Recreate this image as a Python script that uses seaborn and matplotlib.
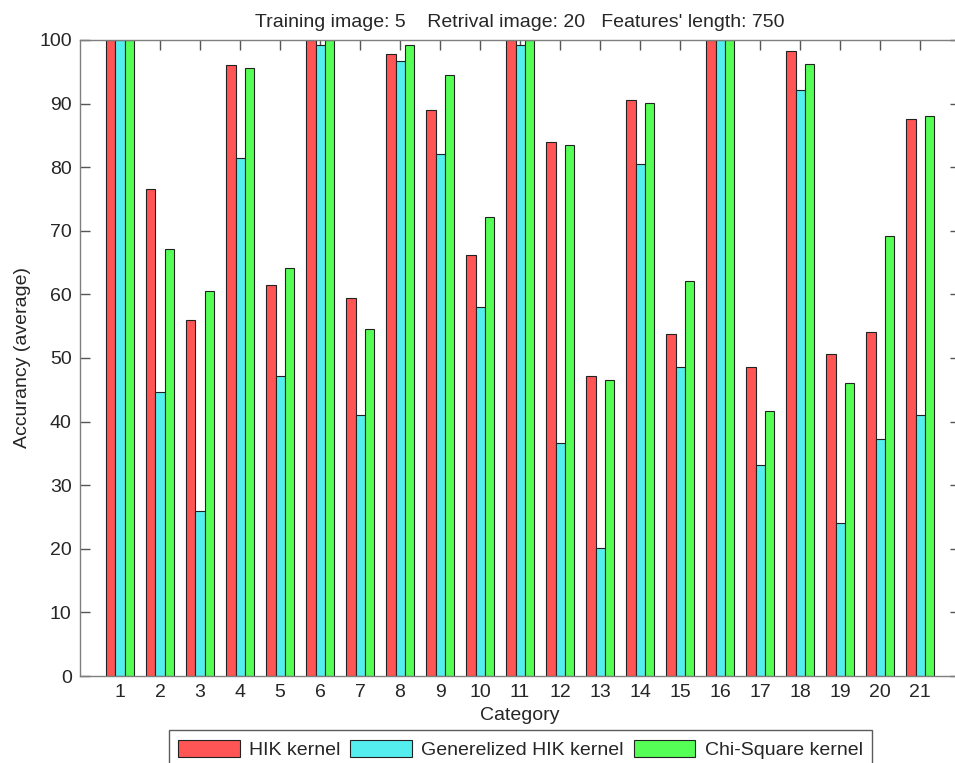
import matplotlib
matplotlib.use("Agg")
import matplotlib.pyplot as plt
import pandas as pd
import seaborn as sns

# Values
categories = [str(i) for i in range(1, 22)]
hik = [100, 76.5, 56, 96, 61.5, 100, 59.5, 97.8, 89, 66.2, 100,
       84, 47.2, 90.5, 53.7, 100, 48.6, 98.2, 50.6, 54.1, 87.6]
gen_hik = [100, 44.6, 26, 81.5, 47.2, 99.2, 41, 96.7, 82, 58, 99.2,
           36.6, 20.1, 80.5, 48.6, 100, 33.1, 92.2, 24.1, 37.2, 41]
chi_square = [100, 67.1, 60.6, 95.6, 64.1, 100, 54.6, 99.2, 94.5, 72.2, 100,
              83.5, 46.5, 90.1, 62.1, 100, 41.6, 96.2, 46.1, 69.2, 88]
series_names = ['HIK kernel', 'Generelized HIK kernel', 'Chi-Square kernel']

df = pd.DataFrame({
    'Category': categories * 3,
    'Accuracy': hik + gen_hik + chi_square,
    'Kernel': [series_names[0]] * 21 + [series_names[1]] * 21 + [series_names[2]] * 21,
})

sns.set_style('white')
plt.rcParams['font.family'] = ['Liberation Sans', 'DejaVu Sans']

fig = plt.figure(figsize=(9.55, 7.63), dpi=100)
# axes run slightly past the right edge, like the cropped original
ax = fig.add_axes([0.0838, 0.114, 0.9215, 0.8336])

palette = ['#FF5555', '#55EEEE', '#55FF55']
sns.barplot(data=df, x='Category', y='Accuracy', hue='Kernel', palette=palette,
            width=0.68, edgecolor='#222222', linewidth=0.8, saturation=1,
            ax=ax)

ax.set_xlim(-1, 21)
ax.set_ylim(0, 100)
ax.set_yticks(range(0, 101, 10))

for s in ax.spines.values():
    s.set_color('#7f7f7f')
    s.set_linewidth(1)
ax.tick_params(direction='in', length=7, width=1, color='#555555',
               top=True, right=True, bottom=True, left=True,
               labelsize=14, pad=6)

ax.set_title("Training image: 5    Retrival image: 20   Features' length: 750",
             fontsize=14, pad=9)
ax.set_xlabel('Category', fontsize=14, labelpad=4)
ax.set_ylabel('Accurancy (average)', fontsize=14, labelpad=6)

handles, labels = ax.get_legend_handles_labels()
ax.get_legend().remove()
leg = fig.legend(handles, labels, loc='upper center', bbox_to_anchor=(0.545, 0.0433),
                 ncol=3, fontsize=14, frameon=True, fancybox=False,
                 handlelength=3.15, handleheight=1.0, handletextpad=0.5,
                 columnspacing=0.5, borderpad=0.5, borderaxespad=0.0)
leg.get_frame().set_edgecolor('#333333')
leg.get_frame().set_linewidth(1)

fig.savefig('out.png', dpi=100)
